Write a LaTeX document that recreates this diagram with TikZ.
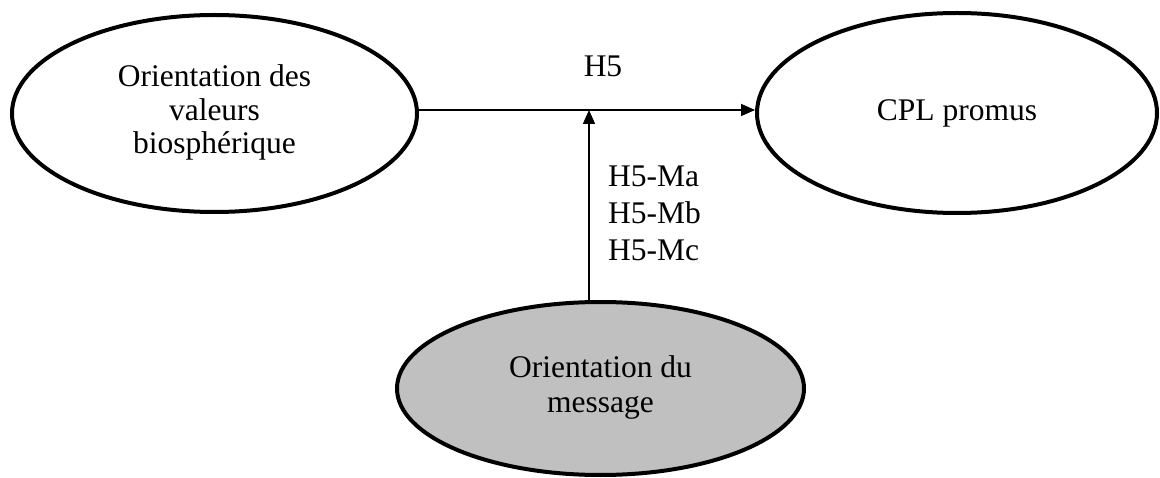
\documentclass[tikz,border=0pt]{standalone}
\usepackage{fontspec}
\setmainfont{Liberation Serif}
\usetikzlibrary{shapes.geometric,arrows.meta}
\definecolor{shade}{HTML}{C0C0C0}
\newcommand{\ovaltext}[3]{\raisebox{#1}{\fontsize{31.5}{#2}\selectfont\begin{tabular}{@{}c@{}}#3\end{tabular}}}
\tikzset{
  oval/.style={ellipse, draw=black, line width=4pt, inner sep=0pt,
    font=\fontsize{31.5}{34}\selectfont},
  conn/.style={line width=1.6pt, -{Triangle[length=14pt,width=12pt]}},
  lbl/.style={inner sep=0pt, font=\fontsize{31.5}{37}\selectfont},
}
\begin{document}
\begin{tikzpicture}[x=1pt,y=-1pt]
\useasboundingbox (0,0) rectangle (1160,478);
\node[oval, minimum width=405pt, minimum height=197pt] (L) at (214.5,113.5)
  {\ovaltext{-1pt}{33.5}{Orientation des\\valeurs\\biosphérique}};
\node[oval, minimum width=400pt, minimum height=200pt] (R) at (957,113)
  {\raisebox{-3pt}{CPL promus}};
\node[oval, fill=shade, minimum width=407pt, minimum height=173pt] (B) at (600.5,388.5)
  {\ovaltext{-4pt}{35}{Orientation du\\message}};
\coordinate (j) at (589,110);
\draw[conn] (L.east |- j) -- (R.west |- j);
\draw[conn] (B.north -| j) -- (j);
\node[lbl, anchor=base] (h5) at (603,77) {H5};
\node[lbl, anchor=base west, align=left] (hm) at (608,261)
  {H5-Ma\\H5-Mb\\H5-Mc};
\end{tikzpicture}
\end{document}
